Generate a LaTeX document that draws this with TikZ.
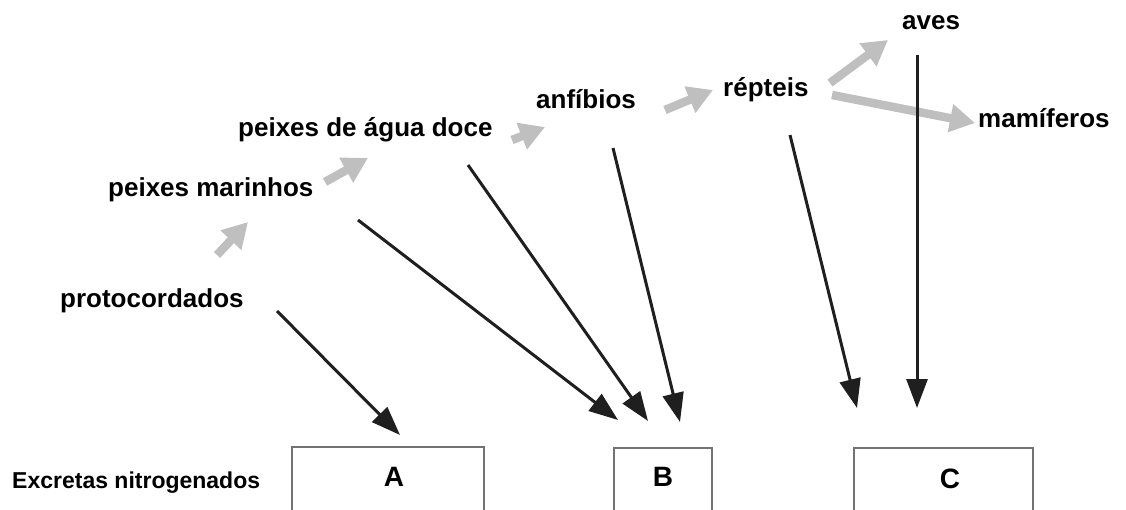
\documentclass[tikz,border=0pt]{standalone}
\usepackage{fontspec}
\setmainfont{Liberation Sans}
\usetikzlibrary{arrows.meta}
\begin{document}
\begin{tikzpicture}[x=1pt,y=-1pt,
  lbl/.style={inner sep=0pt,anchor=base west,font=\fontsize{26}{30}\selectfont\bfseries},
  letter/.style={inner sep=0pt,font=\fontsize{28}{32}\selectfont\bfseries},
  box/.style={draw=black!55,line width=2pt,inner sep=0pt,anchor=north west,minimum height=110pt},
  gar/.style={draw=black!25,line width=8.5pt,-{Triangle[width=27pt,length=25pt]}},
  blk/.style={draw=black!88,line width=3pt,-{Triangle[width=21pt,length=29pt]}}]
\useasboundingbox (0,0) rectangle (1126,510);
\clip (0,0) rectangle (1126,510);
% labels
\node[lbl] (proto) at (60,308) {protocordados};
\node[lbl] (marin) at (108,197) {peixes marinhos};
\node[lbl] (doce)  at (238,137) {peixes de água doce};
\node[lbl] (anfib) at (536,109) {anfíbios};
\node[lbl] (rept)  at (723,97)  {répteis};
\node[lbl] (aves)  at (902,30)  {aves};
\node[lbl] (mamif) at (978,128) {mamíferos};
\node[inner sep=0pt,anchor=base west,font=\fontsize{23}{27}\selectfont\bfseries] (excr) at (12,488) {Excretas nitrogenados};
% boxes
\node[box,minimum width=192pt] (boxA) at (291,446) {};
\node[box,minimum width=98pt]  (boxB) at (613,447) {};
\node[box,minimum width=179pt] (boxC) at (853,447) {};
\node[letter] (lA) at (394,477) {A};
\node[letter] (lB) at (663,477) {B};
\node[letter] (lC) at (950,479) {C};
% arrow tips above the boxes
\coordinate (tA)  at (400,435);
\coordinate (tB1) at (618,420);
\coordinate (tB2) at (648,421);
\coordinate (tB3) at (680,422);
\coordinate (tC1) at (857,408);
\coordinate (tC2) at (917,408);
% gray evolution arrows
\draw[gar] ([shift={(157,-53)}]proto.base west) -- ([shift={(140,25)}]marin.base west);
\draw[gar] ([shift={(217,-15)}]marin.base west) -- ([shift={(130,21)}]doce.base west);
\draw[gar] ([shift={(274,3)}]doce.base west) -- ([shift={(9,18)}]anfib.base west);
\draw[gar] ([shift={(129,1)}]anfib.base west) -- ([shift={(-10,-7)}]rept.base west);
\draw[gar] ([shift={(107,-14)}]rept.base west) -- ([shift={(-14,10)}]aves.base west);
\draw[gar] ([shift={(109,-2)}]rept.base west) -- ([shift={(-3,-5)}]mamif.base west);
% black excretion arrows
\draw[blk] ([shift={(217,3)}]proto.base west) -- (tA);
\draw[blk] ([shift={(250,23)}]marin.base west) -- (tB1);
\draw[blk] ([shift={(230,28)}]doce.base west) -- (tB2);
\draw[blk] ([shift={(77,39)}]anfib.base west) -- (tB3);
\draw[blk] ([shift={(67,38)}]rept.base west) -- (tC1);
\draw[blk] ([shift={(15,25)}]aves.base west) -- (tC2);
\end{tikzpicture}
\end{document}
